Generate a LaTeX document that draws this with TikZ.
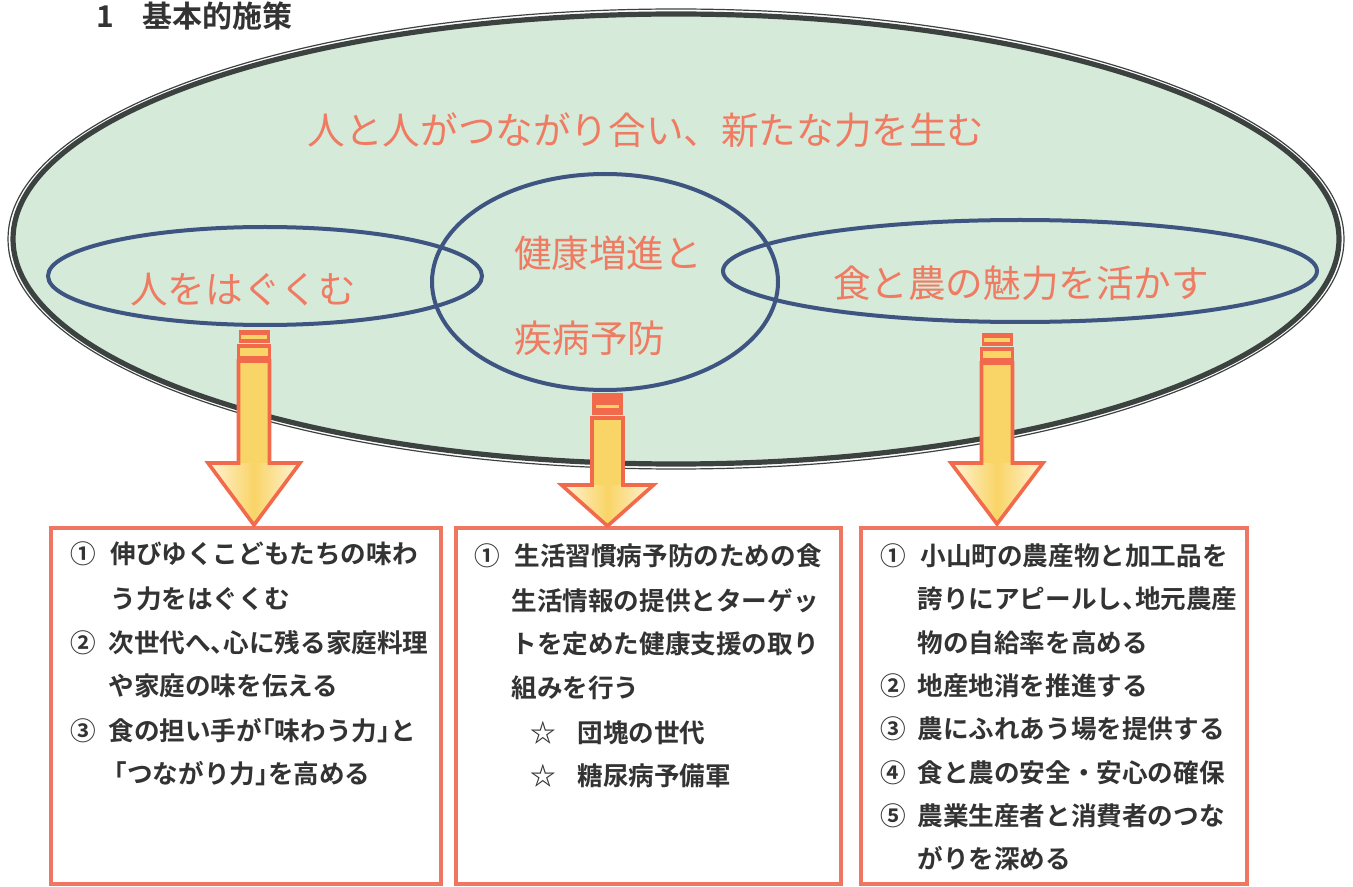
\documentclass[tikz,border=0pt]{standalone}
\usepackage{fontspec}
\newfontfamily\jpfont{Noto Sans CJK JP}
\newfontfamily\jpbold{Noto Sans CJK JP Bold}
\newfontfamily\jpboldhalt[RawFeature=+halt]{Noto Sans CJK JP Bold}
\definecolor{ovalfill}{HTML}{D5EAD9}
\definecolor{ovaldark}{HTML}{3C4240}
\definecolor{ringblue}{HTML}{3D5580}
\definecolor{salmon}{HTML}{EF7B62}
\definecolor{arroworange}{HTML}{F26A4C}
\definecolor{arrowyellow}{HTML}{F9D466}
\definecolor{arrowpale}{HTML}{FFF4D8}
\definecolor{boxred}{HTML}{EF7660}
\definecolor{boxtext}{HTML}{333333}
\tikzset{
  ring/.style={draw=ringblue, line width=2pt},
  bigtext/.style={text=salmon, font=\jpfont\fontsize{18.8pt}{22pt}\selectfont, inner sep=0pt},
  itemtext/.style={text=boxtext, font=\jpbold\fontsize{12.8pt}{15pt}\selectfont, inner sep=0pt, anchor=base west},
  halttext/.style={itemtext, font=\jpboldhalt\fontsize{12.8pt}{15pt}\selectfont},
  boxframe/.style={draw=boxred, line width=2pt, fill=white},
  arrowline/.style={draw=arroworange, line width=1.8pt, line join=miter},
}
% block arrow: cx, shaft top, head base, tip
\newcommand{\blockarrowshape}[4]{%
  \fill[arrowyellow] ({#1-15.5},#2) rectangle ({#1+15.5},#3);
  \shade[left color=arrowpale, right color=arrowpale, middle color=arrowyellow]
    ({#1-46},#3) -- ({#1+46},#3) -- (#1,#4) -- cycle;
  \draw[arrowline] ({#1-15.5},#2) -- ({#1+15.5},#2) -- ({#1+15.5},#3) -- ({#1+46},#3)
    -- (#1,#4) -- ({#1-46},#3) -- ({#1-15.5},#3) -- cycle;
}
\begin{document}
\begin{tikzpicture}[x=0.5pt,y=-0.5pt]
\useasboundingbox (0,0) rectangle (1353,887);
% title
\node[text=boxtext, font=\jpbold\fontsize{15pt}{18pt}\selectfont, inner sep=0pt, anchor=base west] (title) at (96,28) {1\hspace{14pt}基本的施策};
% outer oval
\coordinate (oc) at (676,239);
\fill[ovalfill] (oc) ellipse [x radius=664, y radius=226];
\draw[ovaldark, line width=0.6pt] (oc) ellipse [x radius=668, y radius=230];
\draw[ovaldark, line width=2.6pt] (oc) ellipse [x radius=663, y radius=225];
% rings
\draw[ring] (265,276) ellipse [x radius=217, y radius=49];
\draw[ring] (605,282) ellipse [x radius=173, y radius=108];
\draw[ring] (1020,271) ellipse [x radius=297, y radius=51];
% oval texts
\node[bigtext] (main) at (646,130) {人と人がつながり合い、新たな力を生む};
\node[bigtext] (left) at (243,290) {人をはぐくむ};
\node[bigtext] (mid1) at (608,253) {健康増進と};
\node[bigtext] (mid2) at (590,338) {疾病予防};
\node[bigtext] (right) at (1021,283) {食と農の魅力を活かす};
% boxes
\draw[boxframe] (51,528) rectangle (441,884);
\draw[boxframe] (456,528) rectangle (841,884);
\draw[boxframe] (861,528) rectangle (1247,884);
% left arrow
\fill[arroworange] (238.5,330) rectangle (269.5,343);
\fill[arrowyellow] (241,335) rectangle (267,339);
\filldraw[fill=arrowyellow, draw=arroworange, line width=1.8pt] (238.5,346) rectangle (269.5,358);
\blockarrowshape{254}{361}{463}{525}
% middle arrow
\fill[arroworange] (592,393) rectangle (623,415);
\fill[arrowyellow] (596,405) rectangle (619,408);
\blockarrowshape{607.5}{418}{485}{526}
% right arrow
\fill[arroworange] (981.5,333) rectangle (1012.5,346);
\fill[arrowyellow] (984,338) rectangle (1010,342);
\filldraw[fill=arrowyellow, draw=arroworange, line width=1.8pt] (981.5,349) rectangle (1012.5,360);
\blockarrowshape{997}{363}{463}{524}
% left box text
\node[itemtext] (a0) at (70,563) {①};
\node[itemtext] (a1) at (110,563) {伸びゆくこどもたちの味わ};
\node[itemtext] (a2) at (110,608) {う力をはぐくむ};
\node[itemtext] (a3) at (70,652) {②};
\node[halttext] (a4) at (108,652) {次世代へ、心に残る家庭料理};
\node[itemtext] (a5) at (108,695) {や家庭の味を伝える};
\node[itemtext] (a6) at (70,740) {③};
\node[halttext] (a7) at (108,740) {食の担い手が「味わう力」と};
\node[halttext] (a8) at (114,783) {「つながり力」を高める};
% middle box text
\node[itemtext] (b0) at (474,565) {①};
\node[itemtext] (b1) at (514,565) {生活習慣病予防のための食};
\node[itemtext] (b2) at (511,610) {生活情報の提供とターゲッ};
\node[itemtext] (b3) at (511,653) {トを定めた健康支援の取り};
\node[itemtext] (b4) at (511,697) {組みを行う};
\node[itemtext] (b5) at (530,742) {☆};
\node[itemtext] (b6) at (577,742) {団塊の世代};
\node[itemtext] (b7) at (530,785) {☆};
\node[itemtext] (b8) at (577,785) {糖尿病予備軍};
% right box text
\node[itemtext] (c0) at (880,565) {①};
\node[itemtext] (c1) at (920,565) {小山町の農産物と加工品を};
\node[halttext] (c2) at (917,608) {誇りにアピールし、地元農産};
\node[itemtext] (c3) at (917,652) {物の自給率を高める};
\node[itemtext] (c4) at (880,695) {②};
\node[itemtext] (c5) at (917,695) {地産地消を推進する};
\node[itemtext] (c6) at (880,738) {③};
\node[itemtext] (c7) at (917,738) {農にふれあう場を提供する};
\node[itemtext] (c8) at (880,782) {④};
\node[itemtext] (c9) at (917,782) {食と農の安全・安心の確保};
\node[itemtext] (c10) at (880,825) {⑤};
\node[itemtext] (c11) at (917,825) {農業生産者と消費者のつな};
\node[itemtext] (c12) at (917,868) {がりを深める};
\end{tikzpicture}
\end{document}
